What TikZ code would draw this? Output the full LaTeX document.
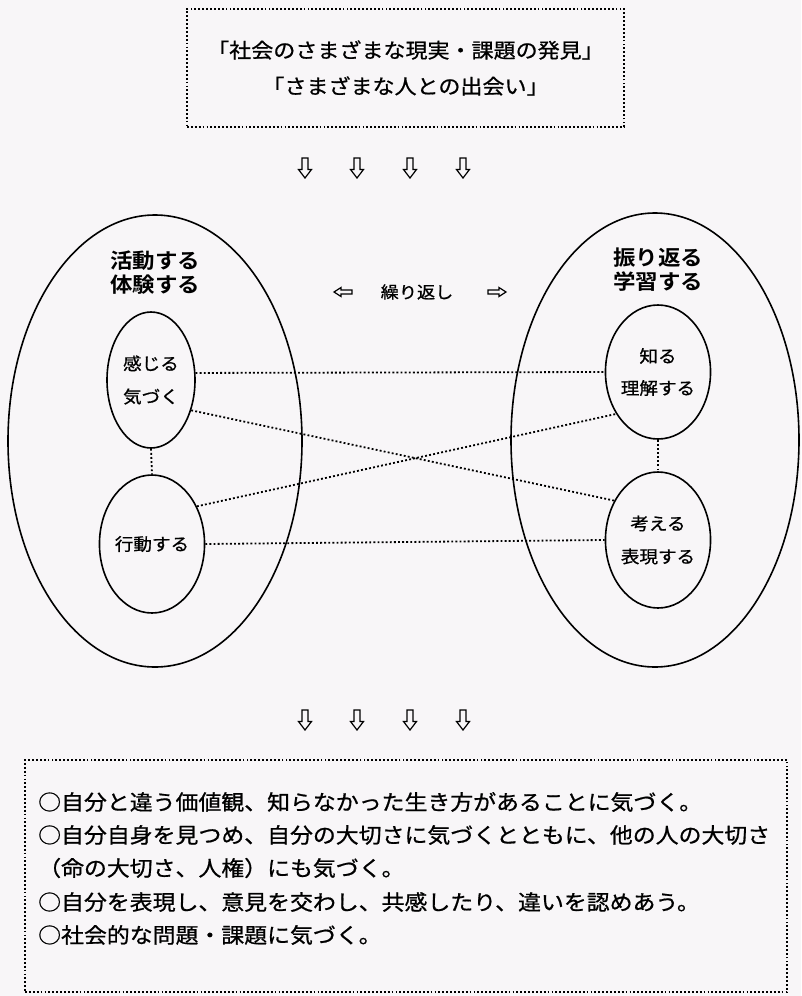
\documentclass[tikz,border=0pt]{standalone}
\usepackage{fontspec}
\usetikzlibrary{shapes.geometric}
\newfontfamily\jp[FakeStretch=1.08,FakeBold=0.8]{Noto Sans CJK JP}
\newfontfamily\jpb[FakeStretch=1.08]{Noto Sans CJK JP Bold}
\definecolor{bg}{RGB}{248,246,248}
\begin{document}
\begin{tikzpicture}[x=1pt,y=-1pt,
  dotline/.style={line width=1.8pt, dash pattern=on 1.9pt off 2.2pt},
  dotbox/.style={draw, line width=1.7pt, dash pattern=on 1.8pt off 2.1pt, inner sep=0pt},
  big/.style={draw, ellipse, line width=1.6pt, inner sep=0pt},
  small/.style={draw, ellipse, line width=1.6pt, inner sep=0pt, align=center, font=\jp\fontsize{17.2}{33}\selectfont},
  titletext/.style={align=center, inner sep=0pt, font=\jpb\fontsize{20.8}{24}\selectfont},
  listline/.style={anchor=west, inner sep=0pt, font=\jp\fontsize{21.2}{33}\selectfont},
  arrowline/.style={draw, line width=1.2pt, line join=miter},
  darr/.pic={\path[arrowline] (-3,-10) -- (3,-10) -- (3,1.5) -- (6.5,1.5) -- (0,10) -- (-6.5,1.5) -- (-3,1.5) -- cycle;},
  rarr/.pic={\path[arrowline] (-9,-2) -- (2,-2) -- (2,-4.5) -- (9,0) -- (2,4.5) -- (2,2) -- (-9,2) -- cycle;},
  larr/.pic={\path[arrowline] (9,-2) -- (-2,-2) -- (-2,-4.5) -- (-9,0) -- (-2,4.5) -- (-2,2) -- (9,2) -- cycle;}
]
\fill[bg] (0,0) rectangle (801,996);
\useasboundingbox (0,0) rectangle (801,996);

% top box
\node[dotbox, minimum width=437pt, minimum height=118pt, align=center,
      font=\jp\fontsize{20.4}{36}\selectfont] (top) at (405.5,68)
  {「社会のさまざまな現実・課題の発見」\\「さまざまな人との出会い」};

% down arrows (top)
\foreach \i/\x in {1/305,2/357,3/410,4/463}
  \pic (d\i) at (\x,168) {darr};

% big ellipses
\node[big, minimum width=294pt, minimum height=452pt] (left) at (155,441) {};
\node[big, minimum width=288pt, minimum height=454pt] (right) at (655,440) {};

% titles
\node[titletext] (lt) at (155,273) {活動する\\体験する};
\node[titletext] (rt) at (658,270) {振り返る\\学習する};

% repeat label
\pic (la) at (343,292) {larr};
\node[inner sep=0pt, font=\jp\fontsize{16.8}{20}\selectfont] (rep) at (417,292) {繰り返し};
\pic (ra) at (497,292) {rarr};

% small ellipses
\node[small, minimum width=88pt, minimum height=136pt] (kan) at (151,380) {感じる\\気づく};
\node[small, minimum width=84pt, minimum height=138pt] (kodo) at (152,544) {行動する};
\node[small, minimum width=86pt, minimum height=134pt, font=\jp\fontsize{17.2}{32}\selectfont] (shiru) at (658,372) {知る\\理解する};
\node[small, minimum width=86pt, minimum height=136pt] (kangae) at (658,540) {考える\\表現する};

% dotted connectors
\draw[dotline] (kan.9) -- (shiru.west);
\draw[dotline] (kan.-37) -- (kangae.138);
\draw[dotline] (kodo.40) -- (shiru.225);
\draw[dotline] (kodo.east) -- (kangae.west);
\draw[dotline] (kan.south) -- (kodo.north);
\draw[dotline] (shiru.south) -- (kangae.north);

% down arrows (bottom)
\foreach \i/\x in {1/305,2/357,3/410,4/463}
  \pic (b\i) at (\x,720) {darr};

% bottom box
\node[dotbox, minimum width=762pt, minimum height=232pt] (bot) at (406,876) {};
\node[listline] (l1) at (38,802) {○自分と違う価値観、知らなかった生き方があることに気づく。};
\node[listline] (l2) at (38,835) {○自分自身を見つめ、自分の大切さに気づくとともに、他の人の大切さ};
\node[listline] (l3) at (38,868) {（命の大切さ、人権）にも気づく。};
\node[listline] (l4) at (38,902) {○自分を表現し、意見を交わし、共感したり、違いを認めあう。};
\node[listline] (l5) at (38,935) {○社会的な問題・課題に気づく。};
\end{tikzpicture}
\end{document}
